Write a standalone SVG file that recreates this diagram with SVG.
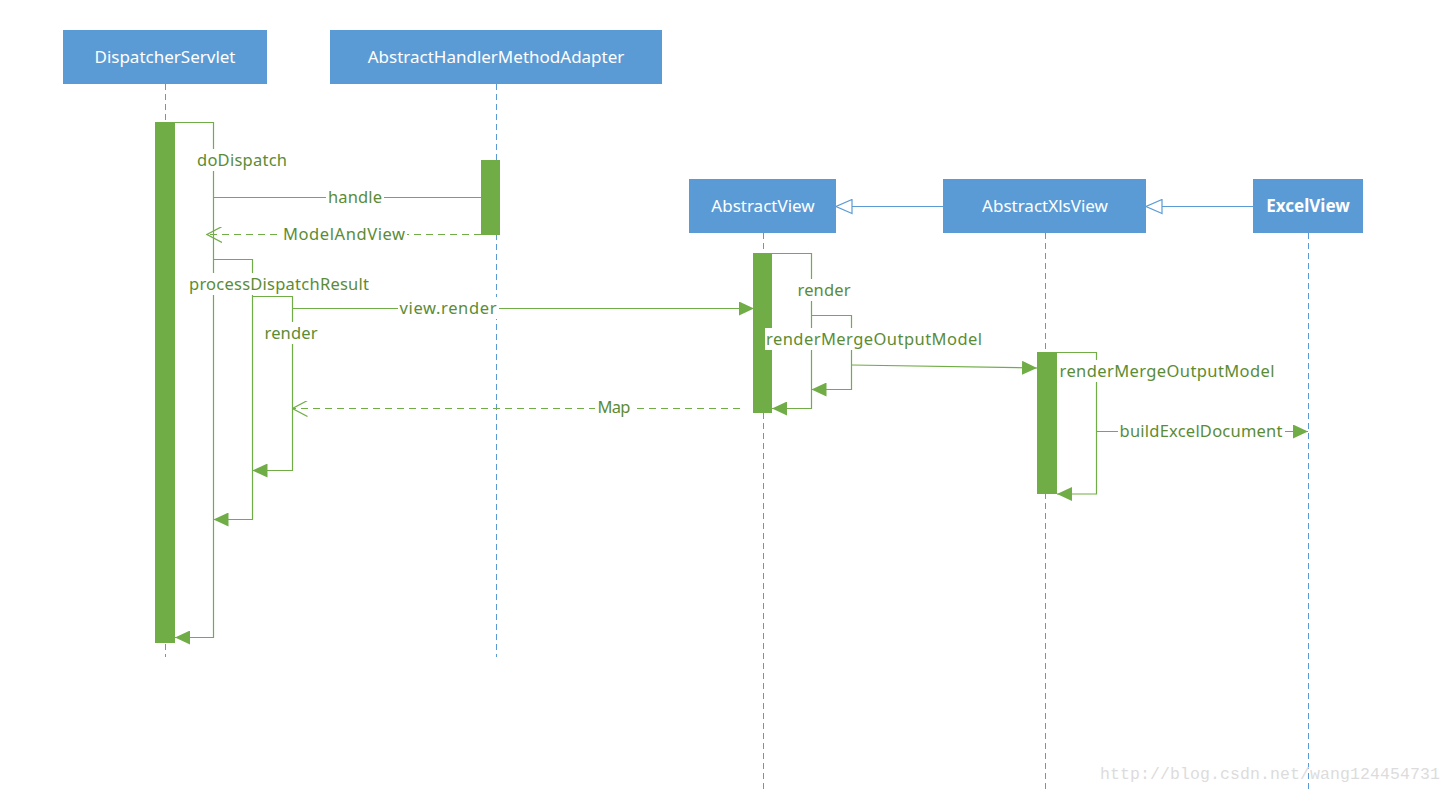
<svg xmlns="http://www.w3.org/2000/svg" width="1452" height="792" viewBox="0 0 1452 792">
<defs>
<style>
.box{fill:#5B9BD5}
.ht{fill:#fff;font-family:"Noto Sans",sans-serif;font-size:17px;text-anchor:middle}
.life{stroke:#5B9BD5;stroke-width:1;stroke-dasharray:6 4;fill:none}
.bar{fill:#70AD47}
.ln{stroke:#70AD47;stroke-width:1.2;fill:none}
.dash{stroke:#70AD47;stroke-width:1.2;fill:none;stroke-dasharray:7 5}
.inh{stroke:#5B9BD5;stroke-width:1.2;fill:none}
.lb{fill:#5B8C35;font-family:"Noto Sans",sans-serif;font-size:16.5px;text-anchor:middle}
.bg{fill:#fff}
</style>
<marker id="fa" markerWidth="16" markerHeight="14" refX="15" refY="7" orient="auto" markerUnits="userSpaceOnUse"><path d="M0,0 L15,7 L0,14 Z" fill="#70AD47"/></marker>
<marker id="oa" markerWidth="16" markerHeight="16" refX="15" refY="8" orient="auto" markerUnits="userSpaceOnUse"><path d="M0,0 L15,8 L0,16" fill="none" stroke="#70AD47" stroke-width="1.2"/></marker>
<marker id="ha" markerWidth="18" markerHeight="16" refX="17" refY="8" orient="auto" markerUnits="userSpaceOnUse"><path d="M1,1 L17,8 L1,15 Z" fill="#fff" stroke="#5B9BD5" stroke-width="1.2"/></marker>
</defs>
<rect width="1452" height="792" fill="#fff"/>
<g id="lifelines">
<line class="life" x1="165.5" y1="84" x2="165.5" y2="657"/>
<line class="life" x1="496.5" y1="84" x2="496.5" y2="657"/>
<line class="life" x1="763.5" y1="233" x2="763.5" y2="792"/>
<line class="life" x1="1045.5" y1="233" x2="1045.5" y2="792"/>
<line class="life" x1="1308.5" y1="233" x2="1308.5" y2="792"/>
</g>
<g id="DispatcherServlet"><rect class="box" x="63" y="30" width="204" height="54"/><text class="ht" x="165" y="63">DispatcherServlet</text></g>
<g id="AbstractHandlerMethodAdapter"><rect class="box" x="330" y="30" width="332" height="54"/><text class="ht" x="496" y="63">AbstractHandlerMethodAdapter</text></g>
<g id="AbstractView"><rect class="box" x="689" y="179" width="147" height="54"/><text class="ht" x="763" y="212">AbstractView</text></g>
<g id="AbstractXlsView"><rect class="box" x="943" y="179" width="203" height="54"/><text class="ht" x="1045" y="212">AbstractXlsView</text></g>
<g id="ExcelView"><rect class="box" x="1253" y="179" width="110" height="54"/><text class="ht" x="1308" y="212" font-weight="bold">ExcelView</text></g>
<g id="activations">
<rect class="bar" x="155" y="122" width="20" height="521"/>
<rect class="bar" x="481" y="160" width="19" height="75"/>
<rect class="bar" x="753" y="253" width="19" height="160"/>
<rect class="bar" x="1037" y="352" width="20" height="142"/>
</g>
<g id="connectors">
<line class="inh" x1="943" y1="206.5" x2="836" y2="206.5" marker-end="url(#ha)"/>
<line class="inh" x1="1253" y1="206.5" x2="1146" y2="206.5" marker-end="url(#ha)"/>
<polyline class="ln" points="175,122.5 213.5,122.5 213.5,637.5 175,637.5" marker-end="url(#fa)"/>
<line class="ln" x1="213.5" y1="197.5" x2="481" y2="197.5"/>
<line class="dash" x1="481" y1="234.5" x2="207" y2="234.5" marker-end="url(#oa)"/>
<polyline class="ln" points="213.5,259.5 252.5,259.5 252.5,519.5 213.5,519.5" marker-end="url(#fa)"/>
<polyline class="ln" points="252.5,296.5 292.5,296.5 292.5,470.5 252.5,470.5" marker-end="url(#fa)"/>
<line class="ln" x1="292.5" y1="308.5" x2="754" y2="308.5" marker-end="url(#fa)"/>
<line class="dash" x1="740" y1="408.5" x2="292.5" y2="408.5" marker-end="url(#oa)"/>
<polyline class="ln" points="772,253.5 811.5,253.5 811.5,408.5 772,408.5" marker-end="url(#fa)"/>
<polyline class="ln" points="811.5,315.5 851.5,315.5 851.5,389.5 811.5,389.5" marker-end="url(#fa)"/>
<line class="ln" x1="851.5" y1="365" x2="1037" y2="368" marker-end="url(#fa)"/>
<polyline class="ln" points="1057,352.5 1096.5,352.5 1096.5,494 1057,494" marker-end="url(#fa)"/>
<line class="ln" x1="1096.5" y1="431.5" x2="1308" y2="431.5" marker-end="url(#fa)"/>
</g>
<g id="labels">
<rect class="bg" x="195" y="149" width="94" height="22"/><text class="lb" x="242" y="166" textLength="90">doDispatch</text>
<rect class="bg" x="326" y="186" width="58" height="22"/><text class="lb" x="355" y="203" textLength="54">handle</text>
<rect class="bg" x="281" y="223" width="126" height="22"/><text class="lb" x="344" y="240" textLength="122">ModelAndView</text>
<rect class="bg" x="187" y="273" width="184" height="22"/><text class="lb" x="279" y="290" textLength="180">processDispatchResult</text>
<rect class="bg" x="263" y="322" width="57" height="22"/><text class="lb" x="291" y="339" textLength="53">render</text>
<rect class="bg" x="398" y="297" width="101" height="22"/><text class="lb" x="448" y="314" textLength="97">view.render</text>
<rect class="bg" x="595" y="398" width="37" height="20"/><text class="lb" x="614" y="413" font-size="14.5px" textLength="33">Map</text>
<rect class="bg" x="796" y="279" width="57" height="22"/><text class="lb" x="824" y="296" textLength="53">render</text>
<rect class="bg" x="765" y="328" width="219" height="22"/><text class="lb" x="874" y="345" textLength="216">renderMergeOutputModel</text>
<rect class="bg" x="1058" y="360" width="219" height="22"/><text class="lb" x="1167" y="377" textLength="215">renderMergeOutputModel</text>
<rect class="bg" x="1118" y="420" width="167" height="22"/><text class="lb" x="1201" y="437" textLength="163">buildExcelDocument</text>
</g>
<text x="1100" y="779" font-family="Liberation Mono,monospace" font-size="16.5px" fill="#DCDCDC" textLength="340">http://blog.csdn.net/wang124454731</text>
</svg>
